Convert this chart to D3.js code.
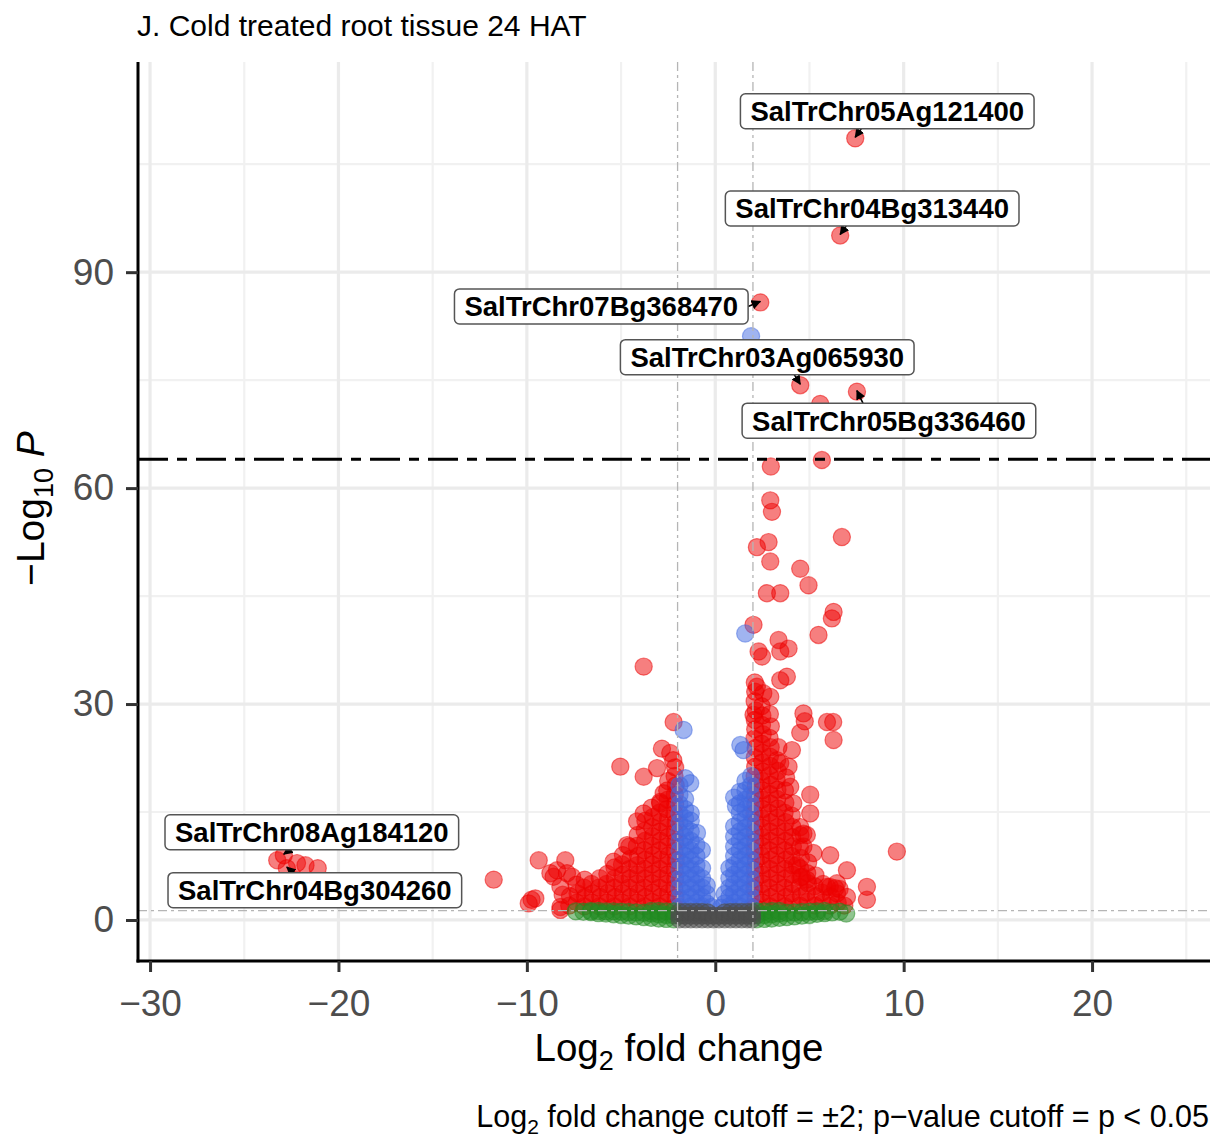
<!DOCTYPE html>
<html>
<head>
<meta charset="utf-8">
<script src="https://cdn.jsdelivr.net/npm/d3@7"></script>
<style>
  body { margin: 0; background: #fff; }
  svg { display: block; font-family: "Liberation Sans", Arial, Helvetica, sans-serif; }
</style>
</head>
<body>
<svg id="chart" width="1225" height="1137"></svg>
<script>
// ---- axis ticks ----
const xTicks = [-30, -20, -10, 0, 10, 20];
const xMinor = [-25, -15, -5, 5, 15, 25];
const yTicks = [0, 30, 60, 90];
const yMinor = [15, 45, 75, 105];

// ---- cutoffs ----
const fcCutoff = 2;
const pCutoffLog = 1.30;      // -log10(0.05)
const upperLine = 64;

// ---- genes: [log2FC, -log10 P] ----
// not significant
const notSig = [
  [-1.9,0.1],[-1.9,0.6],[-1.9,1.1],[-1.6,0.1],[-1.6,0.6],[-1.6,1.1],[-1.3,0.1],[-1.3,0.6],[-1.3,1.1],
  [-1.0,0.1],[-1.0,0.6],[-1.0,1.1],[-0.7,0.1],[-0.7,0.6],[-0.7,1.1],[-0.4,0.1],[-0.4,0.6],[-0.4,1.05],
  [-0.1,0.1],[-0.1,0.6],[0.2,0.1],[0.2,0.6],[0.5,0.1],[0.5,0.6],[0.5,1.05],[0.8,0.1],[0.8,0.6],[0.8,1.1],
  [1.1,0.1],[1.1,0.6],[1.1,1.1],[1.4,0.1],[1.4,0.6],[1.4,1.1],[1.7,0.1],[1.7,0.6],[1.7,1.1],
  [1.95,0.1],[1.95,0.6],[1.95,1.1]
];
// |log2FC| > 2 only
const fcOnly = [
  [-7.4,1.2],[-7.0,1.15],[-6.6,1.1],[-6.6,1.25],[-6.2,0.95],[-6.2,1.25],[-5.8,0.9],[-5.8,1.2],
  [-5.4,0.8],[-5.4,1.2],[-5.0,0.7],[-5.0,1.15],[-4.6,0.6],[-4.6,1.1],[-4.2,0.5],[-4.2,1.05],
  [-3.8,0.4],[-3.8,1.0],[-3.4,0.3],[-3.4,0.9],[-3.4,1.25],[-3.0,0.2],[-3.0,0.8],[-3.0,1.25],
  [-2.6,0.15],[-2.6,0.7],[-2.6,1.2],[-2.2,0.1],[-2.2,0.65],[-2.2,1.2],
  [2.2,0.1],[2.2,0.65],[2.2,1.2],[2.6,0.15],[2.6,0.7],[2.6,1.2],[3.0,0.2],[3.0,0.8],[3.0,1.25],
  [3.4,0.3],[3.4,0.9],[3.4,1.25],[3.8,0.4],[3.8,1.0],[4.2,0.5],[4.2,1.05],[4.6,0.6],[4.6,1.1],
  [5.0,0.7],[5.0,1.15],[5.4,0.85],[5.4,1.2],[5.8,0.95],[5.8,1.25],[6.2,1.05],[6.6,1.15],[6.95,0.9]
];
// p < 0.05 only
const pOnly = [
  [-1.9,1.8],[-1.9,3.1],[-1.9,4.4],[-1.9,5.7],[-1.9,7.0],[-1.9,8.3],[-1.9,9.6],[-1.9,10.9],[-1.9,12.2],
  [-1.9,13.5],[-1.9,14.8],[-1.9,16.1],[-1.9,17.4],[-1.9,18.7],
  [-1.6,2.4],[-1.6,3.7],[-1.6,5.0],[-1.6,6.3],[-1.6,7.6],[-1.6,8.9],[-1.6,10.2],[-1.6,11.5],[-1.6,12.8],
  [-1.6,14.1],[-1.6,15.4],[-1.6,16.8],
  [-1.3,1.9],[-1.3,3.2],[-1.3,4.5],[-1.3,5.8],[-1.3,7.1],[-1.3,8.4],[-1.3,9.7],[-1.3,11.0],[-1.3,12.3],[-1.3,13.8],
  [-1.0,2.4],[-1.0,3.7],[-1.0,5.0],[-1.0,6.3],[-1.0,7.6],[-1.0,8.9],[-1.0,10.4],
  [-0.7,1.9],[-0.7,3.2],[-0.7,4.5],[-0.7,5.8],[-0.7,7.2],
  [-0.45,2.3],[-0.45,3.6],[-0.45,4.8],[-0.2,1.8],
  [-1.68,26.4],[-1.59,19.7],[-1.33,19.0],[-1.3,14.8],[-0.97,12.1],[-0.71,9.7],
  [1.9,1.8],[1.9,3.1],[1.9,4.4],[1.9,5.7],[1.9,7.0],[1.9,8.3],[1.9,9.6],[1.9,10.9],[1.9,12.2],[1.9,13.5],
  [1.9,14.8],[1.9,16.1],[1.9,17.4],[1.9,18.7],[1.9,20.0],
  [1.6,2.4],[1.6,3.7],[1.6,5.0],[1.6,6.3],[1.6,7.6],[1.6,8.9],[1.6,10.2],[1.6,11.5],[1.6,12.8],[1.6,14.1],
  [1.6,15.4],[1.6,16.7],[1.6,18.0],[1.6,19.3],
  [1.3,1.9],[1.3,3.2],[1.3,4.5],[1.3,5.8],[1.3,7.1],[1.3,8.4],[1.3,9.7],[1.3,11.0],[1.3,12.3],[1.3,13.6],
  [1.3,14.9],[1.3,16.2],[1.3,17.8],
  [1.0,2.4],[1.0,3.7],[1.0,5.0],[1.0,6.3],[1.0,7.6],[1.0,8.9],[1.0,10.2],[1.0,11.6],[1.0,13.0],
  [0.75,1.9],[0.75,3.2],[0.75,4.5],[0.75,5.8],[0.75,7.2],[0.5,2.3],[0.5,3.6],[0.3,1.7],
  [1.5,23.6],[1.33,24.3],[1.59,39.8],[1.9,81.1],[1.0,17.0],[1.1,15.8]
];
// p < 0.05 and |log2FC| > 2
const both = [
  // up-regulated
  [2.10,1.8],[2.14,3.1],[2.08,4.4],[2.12,5.7],[2.10,7.0],[2.15,8.3],[2.09,9.6],[2.12,10.9],[2.10,12.2],
  [2.14,13.5],[2.08,14.8],[2.12,16.1],[2.10,17.4],[2.15,18.7],[2.09,20.0],[2.12,21.3],[2.10,22.6],
  [2.14,23.9],[2.08,25.2],[2.12,26.5],[2.10,27.8],[2.15,29.1],[2.09,30.4],[2.12,31.7],[2.10,33.0],
  [2.50,2.4],[2.46,3.7],[2.52,5.0],[2.48,6.3],[2.50,7.6],[2.45,8.9],[2.52,10.2],[2.48,11.5],[2.50,12.8],
  [2.46,14.1],[2.53,15.4],[2.48,16.7],[2.50,18.0],[2.46,19.3],[2.52,20.6],[2.48,21.9],[2.50,23.2],
  [2.45,24.5],[2.52,25.8],[2.48,27.1],[2.50,28.4],[2.46,29.7],[2.55,31.5],
  [2.90,1.9],[2.94,3.2],[2.88,4.5],[2.92,5.8],[2.90,7.1],[2.95,8.4],[2.89,9.7],[2.92,11.0],[2.90,12.3],
  [2.94,13.6],[2.88,14.9],[2.92,16.2],[2.90,17.5],[2.95,18.8],[2.89,20.1],[2.92,21.4],[2.90,22.7],
  [2.94,24.0],[2.88,25.3],[2.95,26.9],[2.90,28.6],
  [3.30,2.5],[3.26,3.8],[3.32,5.1],[3.28,6.4],[3.30,7.7],[3.25,9.0],[3.32,10.3],[3.28,11.6],[3.30,12.9],
  [3.26,14.2],[3.33,15.5],[3.28,16.8],[3.30,18.1],[3.26,19.4],[3.32,20.7],[3.28,22.2],[3.35,24.0],
  [3.70,1.9],[3.74,3.2],[3.68,4.5],[3.72,5.8],[3.70,7.1],[3.75,8.4],[3.69,9.7],[3.72,11.0],[3.70,12.3],
  [3.74,13.6],[3.68,14.9],[3.72,16.3],[3.70,18.0],[3.76,19.8],
  [4.10,2.4],[4.06,3.7],[4.12,5.0],[4.08,6.3],[4.10,7.6],[4.05,8.9],[4.12,10.2],[4.08,11.5],[4.10,12.9],
  [4.06,14.5],[4.14,16.2],
  [4.50,2.0],[4.54,3.3],[4.48,4.6],[4.52,5.9],[4.50,7.2],[4.55,8.6],[4.49,10.1],[4.52,11.8],
  [4.90,2.5],[4.86,3.8],[4.92,5.1],[4.88,6.5],[4.93,8.0],
  [5.30,2.0],[5.34,3.3],[5.28,4.7],[5.32,6.2],[5.70,2.4],[5.66,3.8],[5.72,5.0],
  [6.10,2.0],[6.14,3.3],[6.08,4.6],[6.50,2.4],[6.46,3.7],[6.85,2.0],
  [2.95,63.0],[5.66,63.9],[2.92,58.3],[3.01,56.7],[6.72,53.2],[2.83,52.5],[2.21,51.8],[2.92,49.8],
  [4.51,48.8],[4.95,46.5],[2.74,45.4],[3.45,45.4],[6.28,42.8],[6.19,41.9],[5.48,39.6],[2.03,41.0],
  [3.36,38.9],[3.89,37.7],[2.30,37.3],[3.45,37.3],[2.48,36.6],[3.80,33.8],[3.45,33.3],[2.21,32.4],
  [2.92,31.0],[4.68,28.7],[4.75,27.6],[5.93,27.5],[6.26,27.5],[6.28,25.0],[4.51,26.0],[2.03,28.5],
  [4.07,23.6],[3.89,21.3],[3.45,21.8],[3.98,18.5],[5.04,17.4],[5.04,14.8],[4.51,12.9],[4.86,11.8],
  [4.68,12.0],[4.68,10.2],[5.21,9.3],[6.10,9.0],[4.33,7.6],[4.60,6.0],[4.86,5.6],[5.93,4.6],[6.46,5.1],
  [6.60,4.3],[6.99,6.9],[9.64,9.5],[8.05,4.6],[8.05,2.8],[6.99,3.2],[6.37,4.4],[5.57,71.7],
  // down-regulated
  [-2.15,1.8],[-2.11,3.1],[-2.17,4.4],[-2.13,5.7],[-2.15,7.0],[-2.10,8.3],[-2.16,9.6],[-2.12,10.9],
  [-2.15,12.2],[-2.11,13.5],[-2.17,14.8],[-2.13,16.1],[-2.15,17.4],[-2.10,18.7],[-2.16,20.0],[-2.13,21.2],
  [-2.55,2.4],[-2.51,3.7],[-2.57,5.0],[-2.53,6.3],[-2.55,7.6],[-2.50,8.9],[-2.56,10.2],[-2.52,11.5],
  [-2.55,12.8],[-2.51,14.1],[-2.57,15.4],[-2.53,16.7],[-2.55,18.0],[-2.50,19.3],
  [-2.95,1.9],[-2.91,3.2],[-2.97,4.5],[-2.93,5.8],[-2.95,7.1],[-2.90,8.4],[-2.96,9.7],[-2.92,11.0],
  [-2.95,12.3],[-2.91,13.6],[-2.97,14.9],[-2.93,16.4],
  [-3.35,2.5],[-3.31,3.8],[-3.37,5.1],[-3.33,6.4],[-3.35,7.7],[-3.30,9.0],[-3.36,10.3],[-3.32,11.6],
  [-3.35,12.9],[-3.31,14.3],[-3.38,15.6],
  [-3.75,1.9],[-3.71,3.2],[-3.77,4.5],[-3.73,5.8],[-3.75,7.1],[-3.70,8.4],[-3.76,9.7],[-3.72,11.0],
  [-3.75,12.4],[-3.71,13.8],
  [-4.15,2.4],[-4.11,3.7],[-4.17,5.0],[-4.13,6.3],[-4.15,7.6],[-4.10,8.9],[-4.16,10.3],[-4.12,11.8],
  [-4.55,1.9],[-4.51,3.2],[-4.57,4.5],[-4.53,5.8],[-4.55,7.1],[-4.50,8.5],[-4.56,10.2],
  [-4.95,2.4],[-4.91,3.7],[-4.97,5.0],[-4.93,6.3],[-4.95,7.7],[-4.90,9.0],
  [-5.35,1.9],[-5.31,3.2],[-5.37,4.5],[-5.33,5.8],[-5.35,7.3],
  [-5.75,2.4],[-5.71,3.7],[-5.77,5.0],[-5.73,6.4],[-6.15,1.9],[-6.11,3.2],[-6.17,4.5],[-6.13,5.8],
  [-6.55,2.4],[-6.51,3.7],[-6.57,5.0],[-6.95,1.9],[-6.91,3.2],[-6.97,4.5],[-6.93,5.6],
  [-7.35,2.4],[-7.31,3.7],[-7.37,4.9],[-7.75,2.0],[-7.71,3.3],
  [-3.80,35.2],[-2.21,27.5],[-5.04,21.3],[-3.80,19.9],[-2.83,23.8],[-2.39,23.2],[-3.09,21.1],[-2.23,22.2],
  [-2.74,17.6],[-2.92,16.2],[-3.80,14.8],[-4.15,13.7],[-4.68,10.4],[-5.40,8.1],[-9.37,8.3],[-7.96,8.3],
  [-11.76,5.6],[-9.90,2.3],[-9.55,3.0],[-9.75,2.8],[-8.22,1.4],[-8.22,1.8],[-8.58,6.0],[-8.40,6.9],
  [-8.75,6.5],[-7.87,6.5],[-7.60,6.0],[-8.22,4.6],[-8.10,3.5],
  [-23.25,8.3],[-22.20,7.9],[-21.75,7.6],[-21.10,7.2]
];
// labelled genes
const labelled = [
  { gene: "SalTrChr05Ag121400", fc: 7.43,   p: 108.6 },
  { gene: "SalTrChr04Bg313440", fc: 6.63,   p: 95.1 },
  { gene: "SalTrChr07Bg368470", fc: 2.39,   p: 85.8 },
  { gene: "SalTrChr03Ag065930", fc: 4.51,   p: 74.3 },
  { gene: "SalTrChr05Bg336460", fc: 7.52,   p: 73.4 },
  { gene: "SalTrChr08Ag184120", fc: -22.9,  p: 9.0 },
  { gene: "SalTrChr04Bg304260", fc: -22.74, p: 7.2 }
];
// repel offsets of label boxes from their gene (pixels)
const labelNudge = {
  SalTrChr05Ag121400: [32, -27],
  SalTrChr04Bg313440: [32, -27],
  SalTrChr07Bg368470: [-159, 4],
  SalTrChr03Ag065930: [-33, -28],
  SalTrChr05Bg336460: [32, 29],
  SalTrChr08Ag184120: [28, -23],
  SalTrChr04Bg304260: [28, 22]
};

const colours = { ns: "#4D4D4D", fc: "#228B22", p: "#4169E1", both: "#EE0000" };

// ---- layout ----
const panelL = 138, panelR = 1210, panelT = 62, panelB = 961;
const svg = d3.select("#chart");
const x = d3.scaleLinear().domain([-30.64, 26.26]).range([panelL, panelR]);
const y = d3.scaleLinear().domain([-5.7, 119.2]).range([panelB, panelT]);

// grid
const grid = svg.append("g");
grid.selectAll(".vmin").data(xMinor).enter().append("line")
  .attr("x1", d => x(d)).attr("x2", d => x(d)).attr("y1", panelT).attr("y2", panelB)
  .attr("stroke", "#f1f1f1").attr("stroke-width", 2.2);
grid.selectAll(".hmin").data(yMinor).enter().append("line")
  .attr("y1", d => y(d)).attr("y2", d => y(d)).attr("x1", panelL).attr("x2", panelR)
  .attr("stroke", "#f1f1f1").attr("stroke-width", 2.2);
grid.selectAll(".vmaj").data(xTicks).enter().append("line")
  .attr("x1", d => x(d)).attr("x2", d => x(d)).attr("y1", panelT).attr("y2", panelB)
  .attr("stroke", "#ebebeb").attr("stroke-width", 3.2);
grid.selectAll(".hmaj").data(yTicks).enter().append("line")
  .attr("y1", d => y(d)).attr("y2", d => y(d)).attr("x1", panelL).attr("x2", panelR)
  .attr("stroke", "#ebebeb").attr("stroke-width", 3.2);

// points
function drawPoints(data, col) {
  svg.append("g").selectAll("circle").data(data).enter().append("circle")
    .attr("cx", d => x(d[0])).attr("cy", d => y(d[1])).attr("r", 8.6)
    .attr("fill", col).attr("fill-opacity", 0.5)
    .attr("stroke", col).attr("stroke-opacity", 0.5).attr("stroke-width", 1.2);
}
drawPoints(both.concat(labelled.map(d => [d.fc, d.p])), colours.both);
drawPoints(pOnly, colours.p);
drawPoints(fcOnly, colours.fc);
drawPoints(notSig, colours.ns);

// cutoff lines
const cut = svg.append("g");
cut.selectAll(".vc").data([-fcCutoff, fcCutoff]).enter().append("line")
  .attr("x1", d => x(d)).attr("x2", d => x(d)).attr("y1", panelT).attr("y2", panelB)
  .attr("stroke", "#b5b5b5").attr("stroke-width", 1.3).attr("stroke-dasharray", "9,4,3,4");
cut.append("line")
  .attr("x1", panelL).attr("x2", panelR).attr("y1", y(pCutoffLog)).attr("y2", y(pCutoffLog))
  .attr("stroke", "#b5b5b5").attr("stroke-width", 1.3).attr("stroke-dasharray", "9,4,3,4");
cut.append("line")
  .attr("x1", panelL).attr("x2", panelR).attr("y1", y(upperLine)).attr("y2", y(upperLine))
  .attr("stroke", "#000").attr("stroke-width", 3).attr("stroke-dasharray", "30,9,10,9");

// axes
const fmt = d3.format("");
const xAxis = svg.append("g").attr("transform", `translate(0,${panelB})`)
  .call(d3.axisBottom(x).tickValues(xTicks).tickSize(11).tickSizeOuter(0).tickPadding(18).tickFormat(fmt));
const yAxis = svg.append("g").attr("transform", `translate(${panelL},0)`)
  .call(d3.axisLeft(y).tickValues(yTicks).tickSize(12).tickSizeOuter(0).tickPadding(12).tickFormat(fmt));
[xAxis, yAxis].forEach(a => {
  a.select(".domain").attr("stroke", "#000").attr("stroke-width", 3);
  a.selectAll(".tick line").attr("stroke", "#333").attr("stroke-width", 3);
  a.selectAll(".tick text").attr("fill", "#4D4D4D").attr("font-size", 37)
    .attr("font-family", "'Liberation Sans', Arial, sans-serif");
});
yAxis.select(".domain").attr("d", `M0,${panelB + 1.5}V${panelT}`);
xAxis.select(".domain").attr("d", `M${-1.5 + panelL},0H${panelR}`);

// labels with connectors
svg.append("defs").append("marker")
  .attr("id", "arr").attr("viewBox", "0 0 10 10").attr("refX", 9).attr("refY", 5)
  .attr("markerWidth", 6).attr("markerHeight", 6).attr("orient", "auto-start-reverse")
  .append("path").attr("d", "M0,0L10,5L0,10z").attr("fill", "#000");

const lab = svg.append("g");
labelled.forEach(d => {
  const px = x(d.fc), py = y(d.p);
  const [dx, dy] = labelNudge[d.gene];
  const cx = px + dx, cy = py + dy;
  const g = lab.append("g");
  const t = g.append("text").attr("x", cx).attr("y", cy).attr("text-anchor", "middle")
    .attr("dy", "0.36em").attr("font-size", 27.5).attr("font-weight", "bold").attr("fill", "#000")
    .text(d.gene);
  const bb = t.node().getBBox();
  const w = bb.width + 20, h = 35;
  // connector from the box edge to the gene
  let ex, ey;
  if (Math.abs(dy) > h / 2) {
    ey = dy < 0 ? cy + h / 2 : cy - h / 2;
    ex = Math.max(cx - w / 2 + 6, Math.min(cx + w / 2 - 6, px + 6 * Math.sign(dx)));
  } else {
    ex = dx < 0 ? cx + w / 2 : cx - w / 2;
    ey = cy;
  }
  g.insert("line", "text").attr("x1", ex).attr("y1", ey).attr("x2", px).attr("y2", py - 1)
    .attr("stroke", "#000").attr("stroke-width", 1.6).attr("marker-end", "url(#arr)");
  g.insert("rect", "text").attr("x", cx - w / 2).attr("y", cy - h / 2).attr("width", w).attr("height", h)
    .attr("rx", 5).attr("fill", "#fff").attr("stroke", "#555").attr("stroke-width", 1.5);
});

// titles
svg.append("text").attr("x", 137).attr("y", 36).attr("font-size", 30).attr("fill", "#000")
  .text("J. Cold treated root tissue 24 HAT");

const xt = svg.append("text").attr("x", 679).attr("y", 1061)
  .attr("text-anchor", "middle").attr("font-size", 38.5).attr("fill", "#000");
xt.append("tspan").text("Log");
xt.append("tspan").attr("font-size", 27).attr("dy", 9).text("2");
xt.append("tspan").attr("dy", -9).text(" fold change");

const yt = svg.append("text").attr("transform", `translate(44,${(panelT + panelB) / 2 - 3}) rotate(-90)`)
  .attr("text-anchor", "middle").attr("font-size", 39).attr("fill", "#000");
yt.append("tspan").text("\u2212Log");
yt.append("tspan").attr("font-size", 27).attr("dy", 9).text("10");
yt.append("tspan").attr("dy", -9).text(" ");
yt.append("tspan").attr("font-style", "italic").text("P");

const cap = svg.append("text").attr("x", 1209).attr("y", 1127).attr("text-anchor", "end")
  .attr("font-size", 30.5).attr("fill", "#000");
cap.append("tspan").text("Log");
cap.append("tspan").attr("font-size", 21).attr("dy", 7).text("2");
cap.append("tspan").attr("dy", -7).text(" fold change cutoff = \u00b12; p\u2212value cutoff = p < 0.05");
</script>
</body>
</html>
